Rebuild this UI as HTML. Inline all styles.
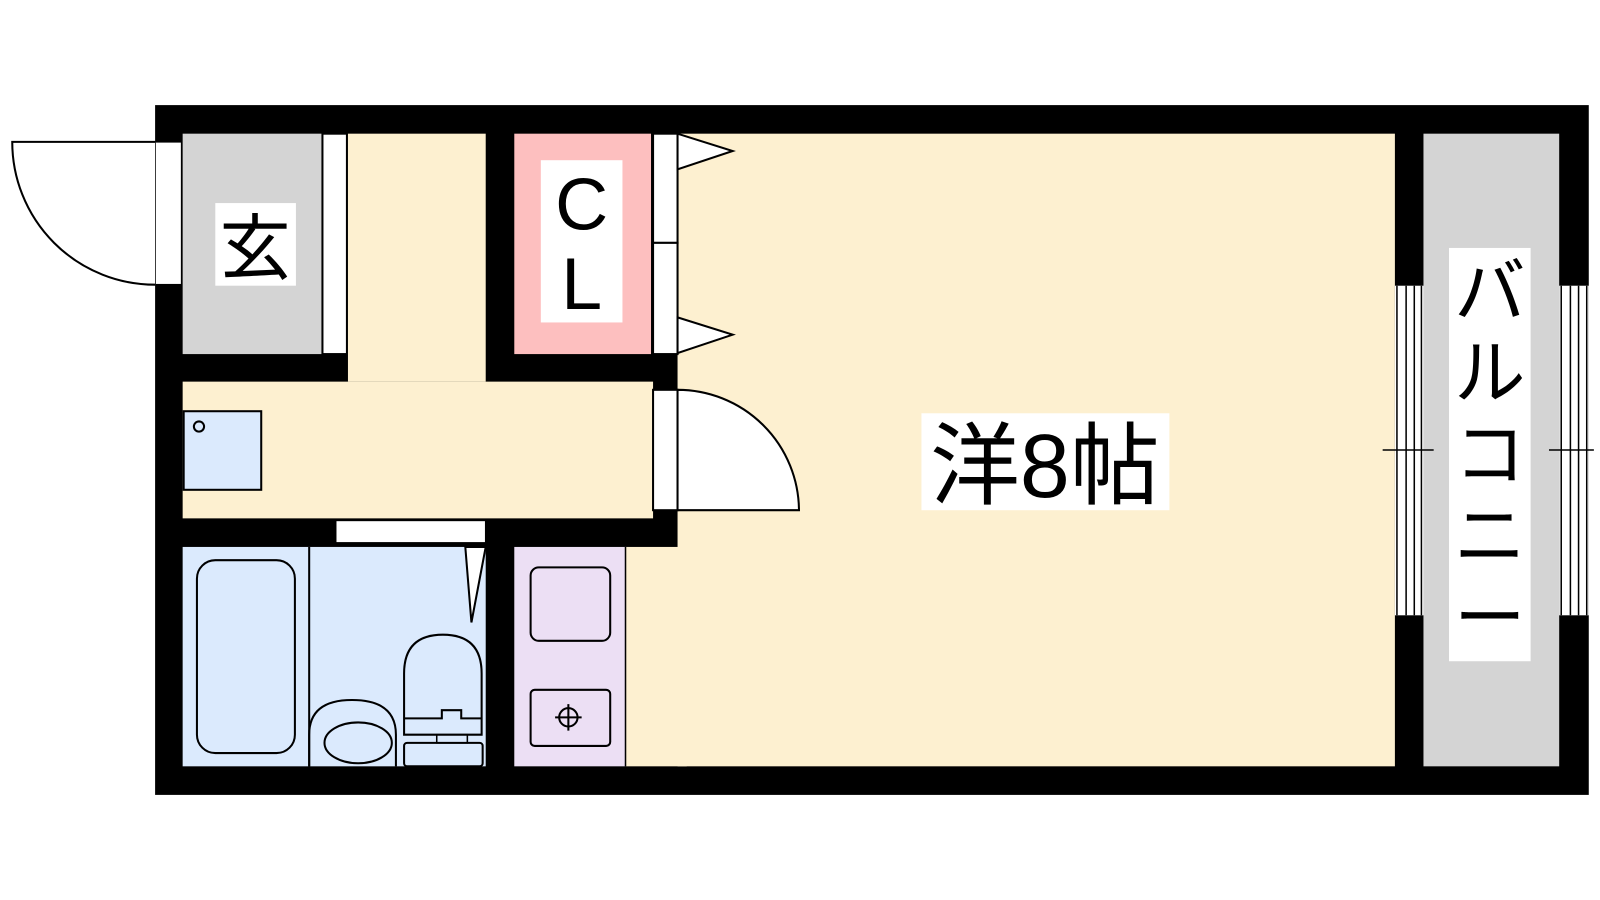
<!DOCTYPE html>
<html><head><meta charset="utf-8"><style>
html,body{margin:0;padding:0;background:#fff;}
svg{display:block}
text{font-family:"Liberation Sans","Noto Sans CJK JP",sans-serif;}
</style></head><body>
<svg width="1600" height="900" viewBox="0 0 1568 882" preserveAspectRatio="none" xmlns="http://www.w3.org/2000/svg">
<rect x="0" y="0" width="1568" height="882" fill="#fff"/>
<!-- outer walls -->
<rect x="152" y="103" width="1405" height="676" fill="#000"/>
<!-- main room -->
<rect x="664" y="131" width="703" height="620" fill="#fdf0d0"/>
<rect x="613" y="536" width="60" height="215" fill="#fdf0d0"/>
<!-- balcony -->
<rect x="1395" y="131" width="133" height="620" fill="#d4d4d4"/>
<!-- genkan -->
<rect x="179" y="131" width="137" height="216" fill="#d4d4d4"/>
<rect x="316" y="131" width="24" height="216" fill="#fff" stroke="#000" stroke-width="2"/>
<!-- hall -->
<rect x="341" y="131" width="135" height="243" fill="#fdf0d0"/>
<rect x="179" y="374" width="461" height="134" fill="#fdf0d0"/>
<!-- closet -->
<rect x="504" y="131" width="134" height="216" fill="#fdbfbf"/>
<rect x="640" y="131" width="24" height="107" fill="#fff" stroke="#000" stroke-width="2"/>
<rect x="640" y="238" width="24" height="109" fill="#fff" stroke="#000" stroke-width="2"/>
<polygon points="664,131 718,148 664,166" fill="#fff" stroke="#000" stroke-width="2"/>
<polygon points="664,311 718,328 664,346" fill="#fff" stroke="#000" stroke-width="2"/>
<!-- room door -->
<rect x="640" y="382" width="24" height="118" fill="#fff" stroke="#000" stroke-width="2"/>
<path d="M664,382 A119,119 0 0 1 783,500 L664,500 Z" fill="#fff" stroke="#000" stroke-width="2"/>
<!-- bath opening -->
<rect x="329" y="510" width="147" height="22" fill="#fff" stroke="#000" stroke-width="1.5"/>
<!-- bath -->
<rect x="179" y="536" width="297" height="215" fill="#dbeafd"/>
<line x1="303" y1="536" x2="303" y2="751" stroke="#000" stroke-width="2"/>
<rect x="193" y="549" width="96" height="189" rx="18" fill="none" stroke="#000" stroke-width="2"/>
<path d="M303,751 L303,720 Q303,686 345,686 Q388,686 388,720 L388,751" fill="none" stroke="#000" stroke-width="2"/>
<ellipse cx="351" cy="728" rx="33" ry="20" fill="none" stroke="#000" stroke-width="2"/>
<path d="M396,720 L396,660 Q396,622 434,622 Q472,622 472,660 L472,720 Z" fill="none" stroke="#000" stroke-width="2"/>
<path d="M396,704 L433,704 L433,696 L452,696 L452,704 L472,704" fill="none" stroke="#000" stroke-width="2"/>
<rect x="396" y="728" width="77" height="23" rx="3" fill="none" stroke="#000" stroke-width="2"/>
<rect x="428" y="720" width="30" height="8" fill="none" stroke="#000" stroke-width="1.5"/>
<polygon points="456,536 476,536 462,610" fill="#fff" stroke="#000" stroke-width="2"/>
<!-- kitchen -->
<rect x="504" y="536" width="109" height="215" fill="#ecdff4"/>
<line x1="613" y1="536" x2="613" y2="751" stroke="#000" stroke-width="1.5"/>
<rect x="520" y="556" width="78" height="72" rx="8" fill="none" stroke="#000" stroke-width="2"/>
<rect x="520" y="676" width="78" height="55" rx="4" fill="none" stroke="#000" stroke-width="2"/>
<circle cx="557" cy="703" r="9" fill="none" stroke="#000" stroke-width="2"/>
<path d="M557,690v26M544,703h26" stroke="#000" stroke-width="2"/>
<!-- washer -->
<rect x="180" y="403" width="76" height="77" fill="#dbeafd" stroke="#000" stroke-width="2"/>
<circle cx="195" cy="418" r="5" fill="none" stroke="#000" stroke-width="2"/>
<!-- entrance door -->
<rect x="152" y="139" width="26" height="140" fill="#fff" stroke="#000" stroke-width="1.5"/>
<path d="M152,139 L12,139 A140,140 0 0 0 152,279" fill="#fff" stroke="#000" stroke-width="2"/>
<!-- balcony windows -->
<g stroke="#000" stroke-width="1.5">
<rect x="1367" y="280" width="28" height="323" fill="#fff" stroke="none"/>
<line x1="1369" y1="280" x2="1369" y2="603"/><line x1="1378" y1="280" x2="1378" y2="603"/>
<line x1="1386" y1="280" x2="1386" y2="603"/><line x1="1393" y1="280" x2="1393" y2="603"/>
<line x1="1355" y1="441" x2="1405" y2="441"/>
<rect x="1528" y="280" width="29" height="323" fill="#fff" stroke="none"/>
<line x1="1530" y1="280" x2="1530" y2="603"/><line x1="1539" y1="280" x2="1539" y2="603"/>
<line x1="1547" y1="280" x2="1547" y2="603"/><line x1="1555" y1="280" x2="1555" y2="603"/>
<line x1="1518" y1="441" x2="1562" y2="441"/>
</g>
<!-- labels -->
<rect x="211" y="199" width="79" height="81" fill="#fff"/>
<text x="250" y="268" font-size="70" text-anchor="middle">玄</text>
<rect x="530" y="157" width="80" height="159" fill="#fff"/>
<text x="570" y="225" font-size="72" text-anchor="middle">C</text>
<text x="570" y="303" font-size="72" text-anchor="middle">L</text>
<rect x="903" y="405" width="243" height="95" fill="#fff"/>
<text x="1024" y="487" font-size="88" text-anchor="middle">洋8帖</text>
<rect x="1420" y="243" width="80" height="405" fill="#fff"/>
<g font-size="70" text-anchor="middle">
<text x="1460" y="310">バ</text>
<text x="1460" y="390">ル</text>
<text x="1460" y="470">コ</text>
<text x="1460" y="550">ニ</text>
<text x="1460" y="630">ー</text>
</g>
</svg>
</body></html>
